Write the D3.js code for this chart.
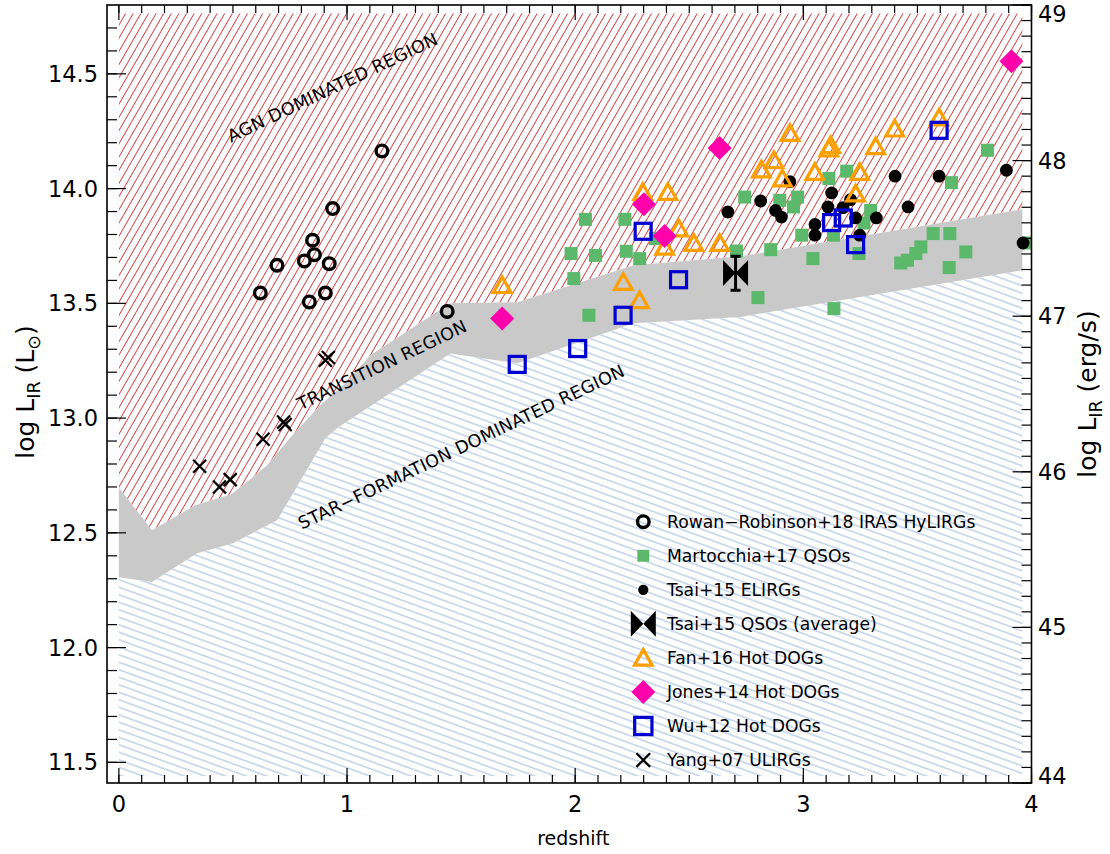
<!DOCTYPE html>
<html>
<head>
<meta charset="utf-8">
<script src="https://cdn.jsdelivr.net/npm/d3@7"></script>
<style>
  body { margin: 0; background: #fff; }
  svg { display: block; }
  text { font-family: "DejaVu Sans", sans-serif; fill: #000; }
</style>
</head>
<body>
<svg id="chart" width="1110" height="854"></svg>
<script>
// ---------- data: [redshift, log L_IR (Lsun)] ----------
const rowanRobinson = [
  [1.153, 14.164], [0.937, 13.913], [0.849, 13.775], [0.857, 13.712], [0.813, 13.685],
  [0.922, 13.673], [0.693, 13.666], [0.620, 13.545], [0.905, 13.545], [0.835, 13.506],
  [1.439, 13.465]
];
const martocchia = [
  [2.045, 13.866], [2.218, 13.866], [1.982, 13.717], [2.089, 13.709], [2.224, 13.727],
  [2.283, 13.695], [1.994, 13.608], [2.060, 13.448], [2.352, 13.782], [2.743, 13.963],
  [2.707, 13.728], [2.801, 13.525], [2.857, 13.734], [2.897, 13.949], [2.957, 13.920],
  [2.975, 13.963], [2.993, 13.797], [3.042, 13.695], [3.112, 14.044], [3.132, 13.797],
  [3.134, 13.477], [3.190, 14.076], [3.244, 13.717], [3.266, 13.850], [3.295, 13.905],
  [3.427, 13.676], [3.456, 13.688], [3.493, 13.717], [3.515, 13.746], [3.569, 13.804],
  [3.639, 13.656], [3.642, 13.804], [3.649, 14.026], [3.712, 13.724], [3.807, 14.167],
  [3.989, 13.763]
];
const tsaiELIRGs = [
  [2.669, 13.898], [2.813, 13.946], [2.878, 13.905], [2.904, 13.876], [2.941, 14.030],
  [3.051, 13.844], [3.051, 13.797], [3.124, 13.981], [3.108, 13.920], [3.174, 13.917],
  [3.207, 13.952], [3.229, 13.872], [3.320, 13.872], [3.247, 13.797], [3.402, 14.054],
  [3.595, 14.054], [3.459, 13.920], [3.890, 14.080], [3.963, 13.763]
];
// Tsai+15 QSO average: redshift, log L, lower and upper error
const tsaiQSOz = [2.703];
const tsaiQSOL = [13.632];
const tsaiQSOLow = [13.557];
const tsaiQSOHigh = [13.705];
const fanHotDOGs = [
  [1.680, 13.579], [2.296, 13.985], [2.406, 13.985], [2.454, 13.826], [2.392, 13.746],
  [2.520, 13.763], [2.633, 13.763], [2.211, 13.593], [2.282, 13.513], [2.816, 14.083],
  [2.871, 14.123], [2.908, 14.044], [2.941, 14.242], [3.050, 14.072], [3.112, 14.174],
  [3.120, 14.189], [3.247, 14.072], [3.229, 13.978], [3.317, 14.184], [3.400, 14.261],
  [3.595, 14.309]
];
const jonesHotDOGs = [
  [2.633, 14.177], [2.301, 13.932], [2.392, 13.794], [1.680, 13.434], [3.912, 14.555]
];
const wuHotDOGs = [
  [2.298, 13.814], [2.453, 13.603], [2.210, 13.448], [2.011, 13.303], [1.746, 13.234],
  [3.124, 13.852], [3.175, 13.872], [3.229, 13.756], [3.595, 14.254]
];
const yangULIRGs = [
  [0.354, 12.790], [0.441, 12.700], [0.488, 12.732], [0.632, 12.908], [0.722, 12.983],
  [0.729, 12.972], [0.905, 13.252], [0.918, 13.264]
];

// transition band: upper (AGN side) and lower (star-formation side) edges
const bandUpperZ = [0.000, 0.145, 0.335, 0.493, 0.650, 0.760, 0.883, 0.993, 1.102, 1.453, 1.747, 2.256, 2.725, 3.960];
const bandUpperL = [12.698, 12.511, 12.620, 12.668, 12.794, 12.925, 13.056, 13.152, 13.274, 13.500, 13.505, 13.666, 13.705, 13.910];
const bandLowerZ = [0.000, 0.145, 0.343, 0.501, 0.694, 0.905, 0.962, 1.453, 1.747, 2.256, 2.725, 3.960];
const bandLowerL = [12.306, 12.286, 12.411, 12.455, 12.555, 12.912, 12.960, 13.282, 13.239, 13.413, 13.441, 13.644];
// extent of the shaded regions
const regionZ = [0.0, 3.96];
const regionL = [11.44, 14.763];

// axis ticks
const xMajorTicks = [0, 1, 2, 3, 4];
const yLeftMajorTicks = [11.5, 12.0, 12.5, 13.0, 13.5, 14.0, 14.5];
const yRightMajorTicks = [44, 45, 46, 47, 48, 49];

// legend entries
const legendLabels = [
  "Rowan\u2212Robinson+18 IRAS HyLIRGs",
  "Martocchia+17 QSOs",
  "Tsai+15 ELIRGs",
  "Tsai+15 QSOs (average)",
  "Fan+16 Hot DOGs",
  "Jones+14 Hot DOGs",
  "Wu+12 Hot DOGs",
  "Yang+07 ULIRGs"
];

// region annotations: [redshift, log L] of the text start, and text
const regionLabels = [
  { z: 0.492, L: 14.200, text: "AGN DOMINATED REGION" },
  { z: 0.797, L: 13.033, text: "TRANSITION REGION" },
  { z: 0.802, L: 12.513, text: "STAR\u2212FORMATION DOMINATED REGION" }
];

// ---------- layout ----------
const plot = { left: 107, right: 1031.5, top: 5, bottom: 783 };
const svg = d3.select("#chart");
svg.append("rect").attr("width", 1110).attr("height", 854).attr("fill", "#fff");

const x = d3.scaleLinear().domain([-0.052, 4.0]).range([plot.left, plot.right]);
const y = d3.scaleLinear().domain([11.41, 14.80]).range([plot.bottom, plot.top]);
const yR = d3.scaleLinear().domain([44, 49]).range([plot.bottom, plot.top]);

const COLORS = {
  agnHatch: "#d42424",
  sfHatch: "#94b2dc",
  band: "#c9c9c9",
  green: "#5cb86a",
  orange: "#ffa000",
  magenta: "#ff00aa",
  blue: "#0000d0"
};

// ---------- hatch patterns ----------
const defs = svg.append("defs");
function hatch(id, spacing, angle, color, width) {
  const p = defs.append("pattern")
    .attr("id", id)
    .attr("patternUnits", "userSpaceOnUse")
    .attr("width", 40).attr("height", spacing)
    .attr("patternTransform", `rotate(${angle})`);
  p.append("line")
    .attr("x1", 0).attr("x2", 40)
    .attr("y1", spacing / 2).attr("y2", spacing / 2)
    .attr("stroke", color).attr("stroke-width", width);
}
hatch("hatchAGN", 6.6, -60, COLORS.agnHatch, 0.85);
hatch("hatchSF", 7.05, 20, COLORS.sfHatch, 0.9);

defs.append("clipPath").attr("id", "plotClip")
  .append("rect")
  .attr("x", plot.left).attr("y", plot.top)
  .attr("width", plot.right - plot.left).attr("height", plot.bottom - plot.top);

// ---------- shaded regions ----------
const upper = bandUpperZ.map((z, i) => [z, bandUpperL[i]]);
const lower = bandLowerZ.map((z, i) => [z, bandLowerL[i]]);
const poly = d3.line().x(d => x(d[0])).y(d => y(d[1]));

const agnPoly = [[regionZ[0], regionL[1]], [regionZ[1], regionL[1]]].concat(upper.slice().reverse());
const bandPoly = upper.concat(lower.slice().reverse());
const sfPoly = lower.concat([[regionZ[1], regionL[0]], [regionZ[0], regionL[0]]]);

const regions = svg.append("g").attr("clip-path", "url(#plotClip)");
regions.append("path").attr("d", poly(agnPoly) + "Z").attr("fill", "url(#hatchAGN)");
regions.append("path").attr("d", poly(sfPoly) + "Z").attr("fill", "url(#hatchSF)");
regions.append("path").attr("d", poly(bandPoly) + "Z").attr("fill", COLORS.band);

// region annotations
const ANGLE = -25.5;
svg.append("g").selectAll("text").data(regionLabels).join("text")
  .attr("transform", d => `translate(${x(d.z)},${y(d.L)}) rotate(${ANGLE})`)
  .attr("font-size", 17.5)
  .attr("letter-spacing", 0.3)
  .text(d => d.text);

// ---------- marker shapes ----------
const shapes = {
  circle: (g, s) => g.append("circle").attr("r", 5.8 * s)
    .attr("fill", "none").attr("stroke", "#000").attr("stroke-width", 3.4),
  greenSquare: (g, s) => g.append("rect")
    .attr("x", -6.5 * s).attr("y", -6.5 * s).attr("width", 13 * s).attr("height", 13 * s)
    .attr("fill", COLORS.green),
  dot: (g, s) => g.append("circle").attr("r", 6.4 * s).attr("fill", "#000"),
  bowtie: (g, s) => g.append("path")
    .attr("d", `M${-12.5 * s},${-13 * s}L0,0L${-12.5 * s},${13 * s}Z M${12.5 * s},${-13 * s}L0,0L${12.5 * s},${13 * s}Z`)
    .attr("fill", "#000"),
  triangle: (g, s) => g.append("path")
    .attr("d", `M0,${-8.3 * s}L${8.8 * s},${7.3 * s}L${-8.8 * s},${7.3 * s}Z`)
    .attr("fill", "none").attr("stroke", COLORS.orange).attr("stroke-width", 3.2)
    .attr("stroke-linejoin", "miter"),
  diamond: (g, s) => g.append("path")
    .attr("d", `M0,${-12 * s}L${12 * s},0L0,${12 * s}L${-12 * s},0Z`)
    .attr("fill", COLORS.magenta),
  openSquare: (g, s) => g.append("rect")
    .attr("x", -8 * s).attr("y", -8 * s).attr("width", 16 * s).attr("height", 16 * s)
    .attr("fill", "none").attr("stroke", COLORS.blue).attr("stroke-width", 3.2),
  cross: (g, s) => g.append("path")
    .attr("d", `M${-6.5 * s},${-6.5 * s}L${6.5 * s},${6.5 * s}M${-6.5 * s},${6.5 * s}L${6.5 * s},${-6.5 * s}`)
    .attr("stroke", "#000").attr("stroke-width", 2.3).attr("fill", "none")
};

const marks = svg.append("g").attr("clip-path", "url(#plotClip)");
function drawSeries(data, shape) {
  marks.append("g").selectAll("g").data(data).join("g")
    .attr("transform", d => `translate(${x(d[0])},${y(d[1])})`)
    .each(function () { shapes[shape](d3.select(this), 1); });
}

drawSeries(martocchia, "greenSquare");
drawSeries(tsaiELIRGs, "dot");

// Tsai+15 QSO average with its error bar
const qso = marks.append("g");
tsaiQSOz.forEach((z, i) => {
  const cx = x(z);
  qso.append("line")
    .attr("x1", cx).attr("x2", cx)
    .attr("y1", y(tsaiQSOLow[i])).attr("y2", y(tsaiQSOHigh[i]))
    .attr("stroke", "#000").attr("stroke-width", 3);
  [tsaiQSOLow[i], tsaiQSOHigh[i]].forEach(v => {
    qso.append("line")
      .attr("x1", cx - 5).attr("x2", cx + 5)
      .attr("y1", y(v)).attr("y2", y(v))
      .attr("stroke", "#000").attr("stroke-width", 3);
  });
  const g = qso.append("g").attr("transform", `translate(${cx},${y(tsaiQSOL[i])})`);
  shapes.bowtie(g, 1);
});

drawSeries(fanHotDOGs, "triangle");
drawSeries(jonesHotDOGs, "diamond");
drawSeries(wuHotDOGs, "openSquare");
drawSeries(rowanRobinson, "circle");
drawSeries(yangULIRGs, "cross");

// ---------- legend ----------
const legendShapes = ["circle", "greenSquare", "dot", "bowtie", "triangle", "diamond", "openSquare", "cross"];
const legendScale = [1.0, 0.92, 0.8, 1.0, 1.0, 1.0, 1.08, 1.05];
const legend = svg.append("g");
legendLabels.forEach((label, i) => {
  const cy = 521.7 + i * 34.05;
  const g = legend.append("g").attr("transform", `translate(643.3,${cy})`);
  shapes[legendShapes[i]](g, legendScale[i]);
  legend.append("text")
    .attr("x", 667).attr("y", cy + 6.3)
    .attr("font-size", 17.2)
    .text(label);
});

// ---------- axes ----------
const axes = svg.append("g").attr("stroke", "#000");
const xMinor = d3.range(0, 4.0001, 0.1).map(v => +v.toFixed(1));
const yMinor = d3.range(11.5, 14.7501, 0.1).map(v => +v.toFixed(1));
const yRMinor = d3.range(44, 49.0001, 0.1).map(v => +v.toFixed(1));

function tickLines(values, scale, orient, len) {
  values.forEach(v => {
    const p = scale(v);
    let x1, x2, y1, y2;
    if (orient === "bottom") { x1 = x2 = p; y1 = plot.bottom; y2 = plot.bottom - len; }
    if (orient === "top") { x1 = x2 = p; y1 = plot.top; y2 = plot.top + len; }
    if (orient === "left") { y1 = y2 = p; x1 = plot.left; x2 = plot.left + len; }
    if (orient === "right") { y1 = y2 = p; x1 = plot.right; x2 = plot.right - len; }
    axes.append("line").attr("x1", x1).attr("x2", x2).attr("y1", y1).attr("y2", y2)
      .attr("stroke-width", 1.2);
  });
}
tickLines(xMinor, x, "bottom", 8);
tickLines(xMinor, x, "top", 8);
tickLines(xMajorTicks, x, "bottom", 15);
tickLines(xMajorTicks, x, "top", 15);
tickLines(yMinor, y, "left", 10);
tickLines(yLeftMajorTicks, y, "left", 19);
tickLines(yRMinor, yR, "right", 10);
tickLines(yRightMajorTicks, yR, "right", 19);

svg.append("rect")
  .attr("x", plot.left).attr("y", plot.top)
  .attr("width", plot.right - plot.left).attr("height", plot.bottom - plot.top)
  .attr("fill", "none").attr("stroke", "#000").attr("stroke-width", 1.6);

// tick labels
const labels = svg.append("g").attr("font-size", 22.5);
labels.selectAll(".xl").data(xMajorTicks).join("text")
  .attr("x", d => x(d)).attr("y", 812)
  .attr("text-anchor", "middle")
  .text(d => d3.format("d")(d));
labels.selectAll(".yl").data(yLeftMajorTicks).join("text")
  .attr("x", 98).attr("y", d => y(d) + 8)
  .attr("text-anchor", "end")
  .text(d => d3.format(".1f")(d));
labels.selectAll(".yr").data(yRightMajorTicks).join("text")
  .attr("x", 1038).attr("y", d => Math.min(Math.max(yR(d), plot.top + 9), plot.bottom - 7) + 8)
  .attr("text-anchor", "start")
  .text(d => d3.format("d")(d));

// axis titles
svg.append("text")
  .attr("x", (plot.left + plot.right) / 2 + 4).attr("y", 845)
  .attr("text-anchor", "middle").attr("font-size", 19)
  .text("redshift");

const midY = (plot.top + plot.bottom) / 2;
const leftTitle = svg.append("text")
  .attr("transform", `translate(34,${midY - 2}) rotate(-90)`)
  .attr("text-anchor", "middle").attr("font-size", 25);
leftTitle.append("tspan").text("log L");
leftTitle.append("tspan").attr("font-size", 17.5).attr("dy", 6).text("IR");
leftTitle.append("tspan").attr("dy", -6).text(" (L");
leftTitle.append("tspan").attr("font-size", 17.5).attr("dy", 6).text("\u2299");
leftTitle.append("tspan").attr("dy", -6).text(")");

const rightTitle = svg.append("text")
  .attr("transform", `translate(1096,${midY}) rotate(-90)`)
  .attr("text-anchor", "middle").attr("font-size", 25);
rightTitle.append("tspan").text("log L");
rightTitle.append("tspan").attr("font-size", 17.5).attr("dy", 6).text("IR");
rightTitle.append("tspan").attr("dy", -6).text(" (erg/s)");
</script>
</body>
</html>
